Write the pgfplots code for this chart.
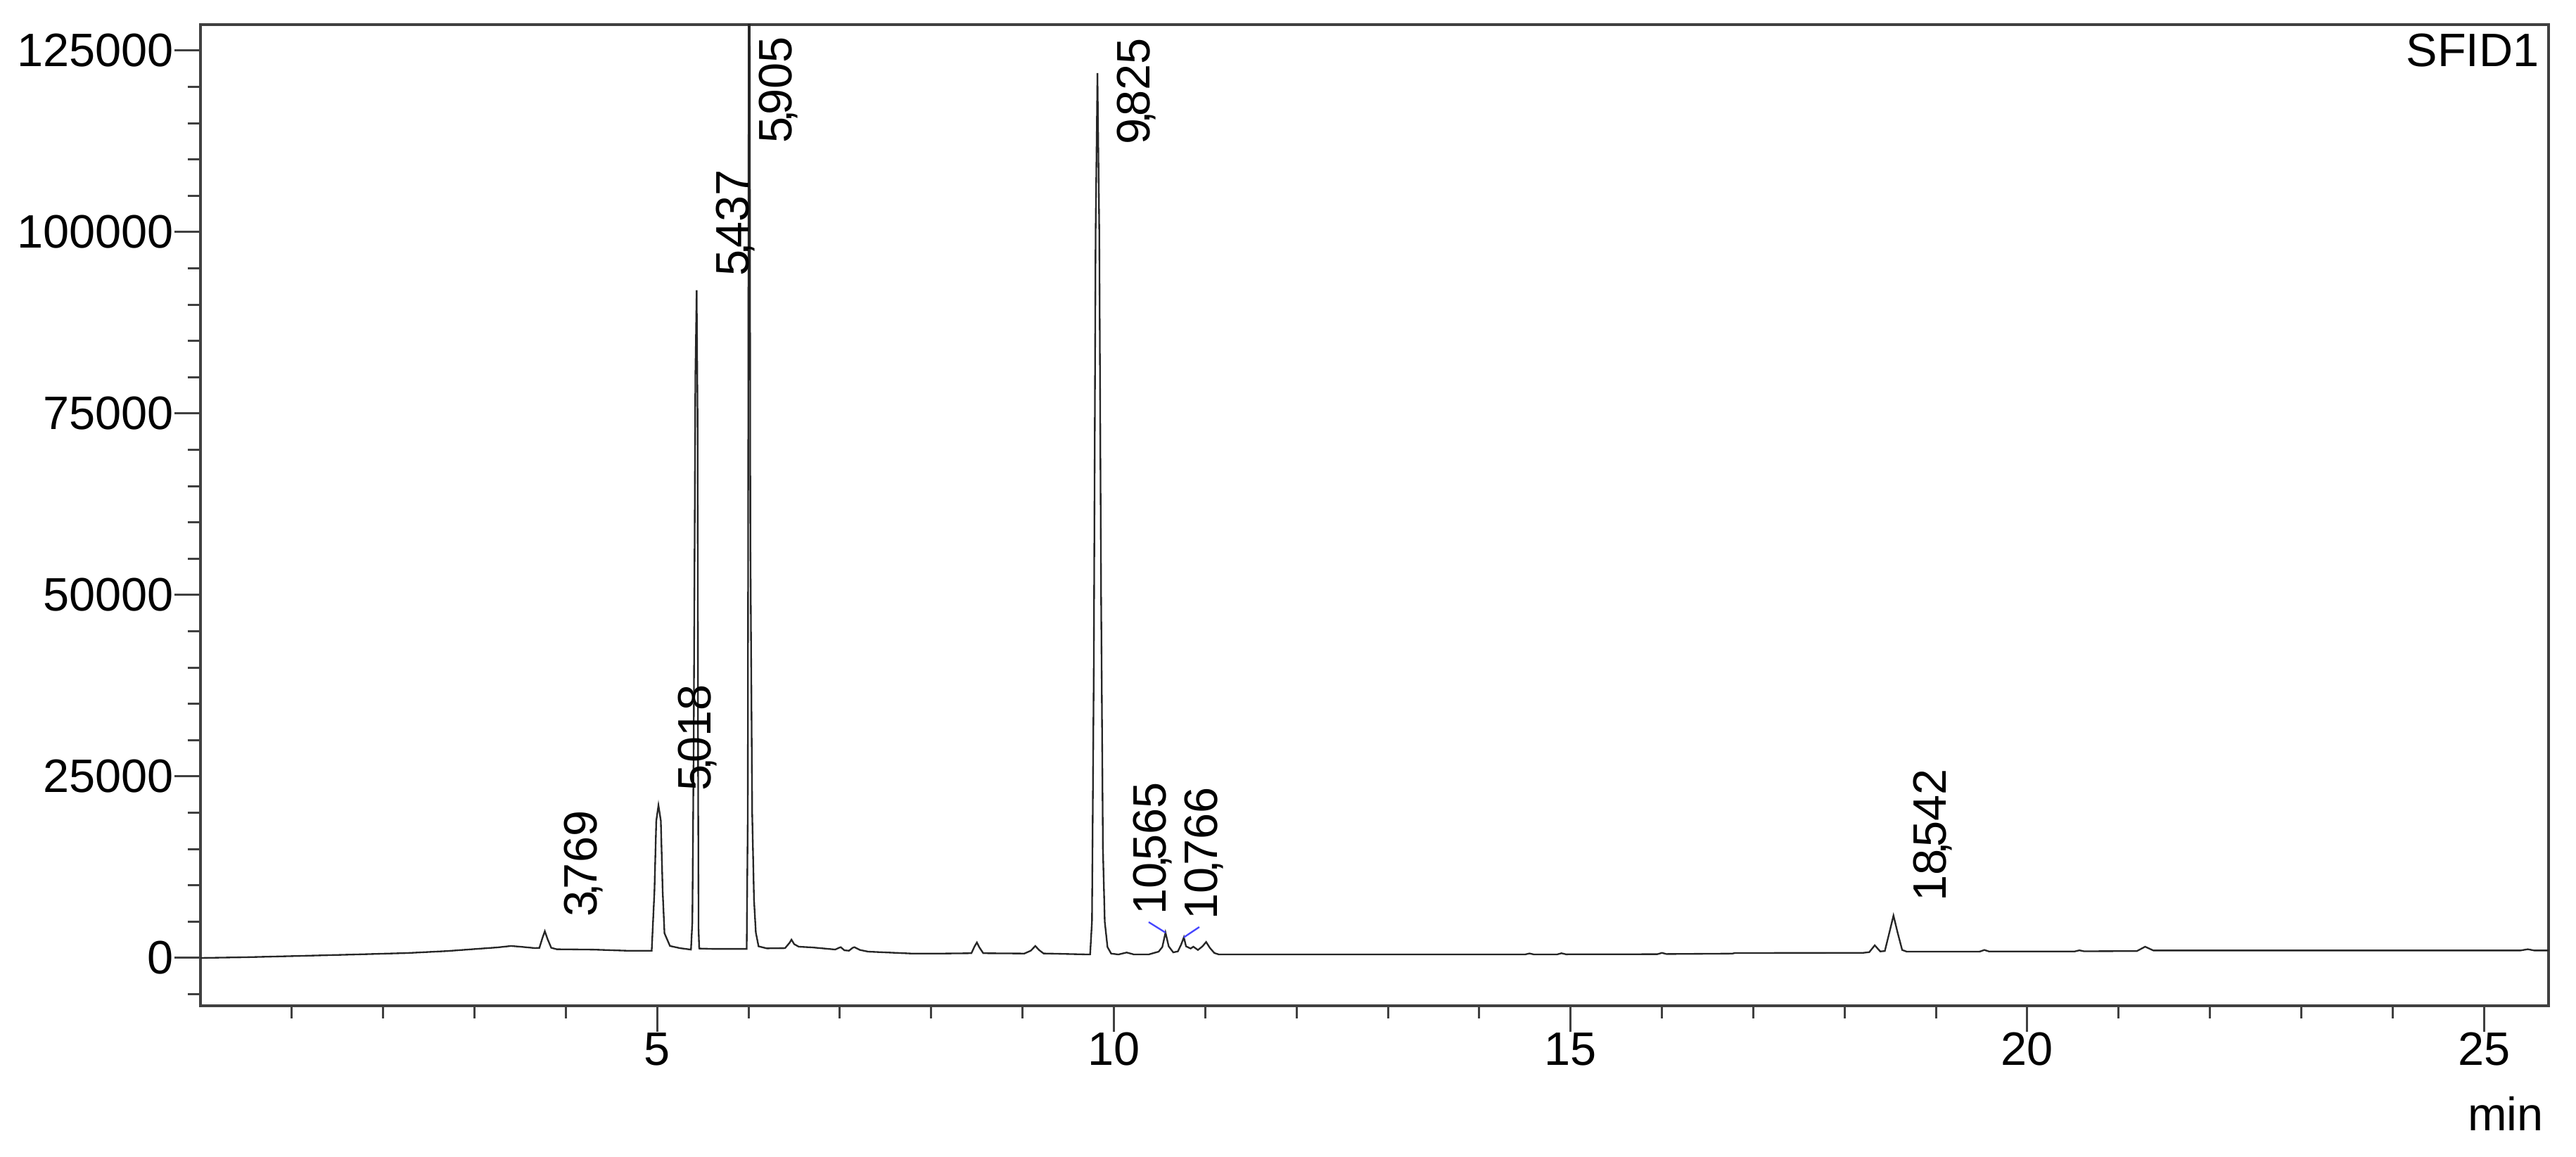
\documentclass[border=0pt]{standalone}
\usepackage{fontspec}
\setmainfont{Liberation Sans}
\usepackage{pgfplots}
\pgfplotsset{compat=1.18}
\newcommand{\pk}[2]{#1\kern-0.12em,\kern-0.12em#2}
\definecolor{leader}{RGB}{70,70,255}
\tikzset{lbl/.style={inner sep=0pt, font=\fontsize{10}{12}\selectfont}}
\begin{document}
\begin{tikzpicture}
\useasboundingbox (0,0) rectangle (549.3pt,246.6pt);
\begin{axis}[
  name=ax,
  at={(42.75pt,32.1pt)}, anchor=south west,
  scale only axis, width=500.7pt, height=209.25pt,
  xmin=0, xmax=25.707, ymin=-6589, ymax=128585,
  axis line style={black!75, line width=0.55pt},
  tick pos=left, tick align=outside,
  major tick length=5.55pt, minor tick length=2.7pt,
  every tick/.style={black!75, line width=0.45pt},
  xtick={5,10,15,20,25}, xticklabels={5,10,15,20,25},
  minor xtick={1,2,3,4,6,7,8,9,11,12,13,14,16,17,18,19,21,22,23,24},
  ytick={0,25000,50000,75000,100000,125000},
  yticklabels={0,25000,50000,75000,100000,125000},
  minor ytick={-5000,5000,10000,15000,20000,30000,35000,40000,45000,55000,60000,65000,70000,80000,85000,90000,95000,105000,110000,115000,120000},
  tick label style={font=\fontsize{10}{12}\selectfont, inner sep=0pt},
]
\addplot[black!85, line width=0.35pt, mark=none] coordinates {
(0,0) (0.5,100) (1.12,290) (1.7,480) (2.27,680) (2.7,950) (3.04,1260) (3.25,1450)
(3.40,1650) (3.50,1550) (3.66,1360) (3.71,1380) (3.745,2800) (3.77,3680) (3.80,2600)
(3.84,1400) (3.90,1200) (4.3,1150) (4.66,1000) (4.94,1000) (4.97,9200) (4.99,18900)
(5.014,21030) (5.04,18900) (5.06,9200) (5.08,3400) (5.14,1650) (5.25,1350) (5.37,1150)
(5.385,5000) (5.40,30000) (5.418,80000) (5.432,92000) (5.442,75000) (5.448,25000)
(5.453,4000) (5.46,1300) (5.6,1250) (5.98,1250) (5.992,20000) (6.003,140000)
(6.012,140000) (6.02,58000) (6.04,20000) (6.06,8000) (6.08,3500) (6.11,1600) (6.2,1320)
(6.40,1350) (6.45,2100) (6.47,2520) (6.50,1900) (6.55,1550) (6.7,1450) (6.95,1160)
(6.99,1400) (7.01,1480) (7.05,1050) (7.10,1000) (7.14,1400) (7.16,1480) (7.22,1100)
(7.31,870) (7.78,610) (8.13,610) (8.44,650) (8.475,1600) (8.50,2130) (8.525,1500)
(8.57,650) (9.02,610) (9.09,1000) (9.14,1650) (9.18,1100) (9.23,620) (9.72,480)
(9.74,500) (9.76,5000) (9.78,40000) (9.80,100000) (9.82,121900) (9.84,100000)
(9.86,50000) (9.88,15000) (9.90,5000) (9.93,1500) (9.97,600) (10.05,480) (10.14,750)
(10.22,480) (10.38,480) (10.49,870) (10.53,1500) (10.565,3490) (10.60,1600) (10.65,770)
(10.70,900) (10.735,1800) (10.766,2840) (10.79,1600) (10.84,1300) (10.87,1550)
(10.92,1100) (10.97,1600) (11.01,2200) (11.05,1400) (11.10,680) (11.15,480) (13.74,480)
(14.50,480) (14.55,620) (14.60,480) (14.85,480) (14.9,650) (14.95,500) (15.95,520)
(16.0,700) (16.05,540) (16.77,600) (16.8,680) (18.2,700) (18.27,800) (18.33,1740)
(18.39,900) (18.44,950) (18.49,3500) (18.535,5840) (18.58,3500) (18.63,1100) (18.68,870)
(19.48,880) (19.53,1100) (19.58,900) (20.52,900) (20.57,1050) (20.62,920) (21.2,950)
(21.29,1550) (21.38,1030) (25.40,1030) (25.48,1200) (25.55,1030) (25.71,1030)
};
% peak labels
\node[xshift=3.9pt, yshift=2.85pt, rotate=90, anchor=north west, lbl] at (axis cs:3.769,3680) {\pk{3}{769}};
\node[xshift=3.9pt, yshift=2.85pt, rotate=90, anchor=north west, lbl] at (axis cs:5.018,21030) {\pk{5}{018}};
\node[xshift=3.9pt, yshift=2.85pt, rotate=90, anchor=north west, lbl] at (axis cs:5.437,92000) {\pk{5}{437}};
\node[xshift=3.9pt, yshift=-2.4pt, rotate=90, anchor=north east, lbl] at (axis cs:5.905,128585) {\pk{5}{905}};
\node[xshift=3.9pt, yshift=-2.7pt, rotate=90, anchor=north east, lbl] at (axis cs:9.825,128585) {\pk{9}{825}};
\node[xshift=-7.05pt, yshift=3.6pt, rotate=90, anchor=north west, lbl] at (axis cs:10.565,3490) {\pk{10}{565}};
\node[xshift=0pt, yshift=3.6pt, rotate=90, anchor=north west, lbl] at (axis cs:10.766,2840) {\pk{10}{766}};
\node[xshift=3.9pt, yshift=2.85pt, rotate=90, anchor=north west, lbl] at (axis cs:18.542,5840) {\pk{18}{542}};
\draw[leader, line width=0.35pt] (axis cs:10.381,4940) -- (axis cs:10.565,3490);
\draw[leader, line width=0.35pt] (axis cs:10.766,2840) -- (axis cs:10.935,4260);
\node[lbl, anchor=north east] at ([xshift=-1.8pt, yshift=-1.8pt]rel axis cs:1,1) {SFID1};
\end{axis}
\node[lbl, anchor=base east] at ([xshift=-0.9pt, yshift=-26.55pt]ax.south east) {min};
\end{tikzpicture}
\end{document}
